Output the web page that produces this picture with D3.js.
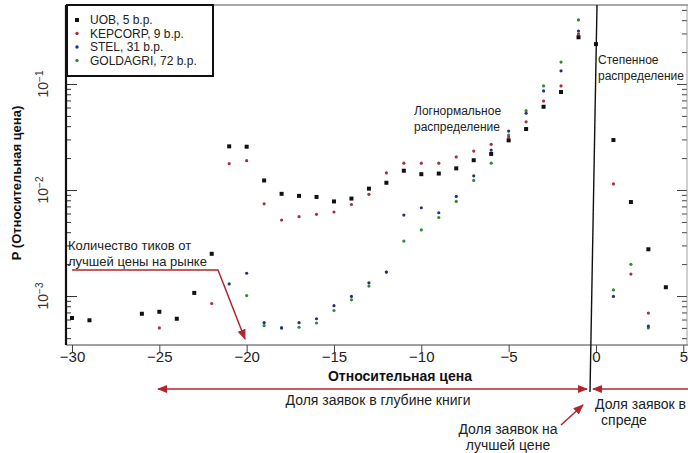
<!DOCTYPE html>
<html lang="ru">
<head>
<meta charset="UTF-8">
<title>P (Относительная цена)</title>
<style>
  body { margin: 0; background: #fff; font-family: "Liberation Sans", Arial, sans-serif; }
  svg { display: block; }
</style>
<script src="https://d3js.org/d3.v7.min.js"></script>
</head>
<body>
<div id="chart"></div>
<script>
// tick labels
const xTicks = [-30, -25, -20, -15, -10, -5, 0, 5];
const yMajor = [1e-3, 1e-2, 1e-1];
const yExp = ["−3", "−2", "−1"];

// series: [relative price, probability]
const seriesNames = ["UOB, 5 b.p.", "KEPCORP, 9 b.p.", "STEL, 31 b.p.", "GOLDAGRI, 72 b.p."];
const seriesColors = ["#111111", "#a8303a", "#27307e", "#2f8a3c"];

const uob = [[-30, 6.2e-4], [-29, 5.9e-4], [-26, 6.8e-4], [-25, 7.1e-4], [-24, 6.1e-4], [-23, 1.07e-3],
  [-22, 2.5e-3], [-21, 2.58e-2], [-20, 2.56e-2], [-19, 1.23e-2], [-18, 9.2e-3], [-17, 8.8e-3],
  [-16, 8.6e-3], [-15, 7.8e-3], [-14, 8.3e-3], [-13, 1.03e-2], [-12, 1.17e-2], [-11, 1.52e-2],
  [-10, 1.41e-2], [-9, 1.43e-2], [-8, 1.6e-2], [-7, 1.91e-2], [-6, 2.19e-2], [-5, 2.94e-2],
  [-4, 3.76e-2], [-3, 6.1e-2], [-2, 8.4e-2], [-1, 0.276], [0, 0.238], [1, 2.96e-2],
  [2, 7.7e-3], [3, 2.76e-3], [4, 1.21e-3]];

const kepcorp = [[-25, 5.0e-4], [-22, 8.5e-4], [-21, 1.77e-2], [-20, 1.89e-2], [-19, 7.4e-3],
  [-18, 5.2e-3], [-17, 5.6e-3], [-16, 5.9e-3], [-15, 6.2e-3], [-14, 7.3e-3], [-13, 9.1e-3],
  [-12, 1.45e-2], [-11, 1.79e-2], [-10, 1.79e-2], [-9, 1.79e-2], [-8, 2.05e-2], [-7, 2.33e-2],
  [-6, 2.7e-2], [-5, 3.16e-2], [-4, 4.4e-2], [-3, 6.9e-2], [-2, 9.6e-2], [-1, 0.296],
  [1, 1.14e-2], [2, 1.61e-3], [3, 6.9e-4]];

const stel = [[-21, 1.3e-3], [-20, 1.64e-3], [-19, 5.6e-4], [-18, 5.0e-4], [-17, 5.6e-4],
  [-16, 6.1e-4], [-15, 8.1e-4], [-14, 9.9e-4], [-13, 1.33e-3], [-12, 1.68e-3], [-11, 5.8e-3],
  [-10, 6.8e-3], [-9, 6.1e-3], [-8, 8.7e-3], [-7, 1.36e-2], [-6, 2.38e-2], [-5, 3.6e-2],
  [-4, 5.3e-2], [-3, 8.6e-2], [-2, 0.133], [-1, 0.316], [1, 9.9e-4], [3, 5.2e-4]];

const goldagri = [[-20, 1.01e-3], [-19, 5.25e-4], [-18, 5.0e-4], [-17, 5.07e-4], [-16, 5.56e-4],
  [-15, 7.3e-4], [-14, 9.2e-4], [-13, 1.24e-3], [-12, 1.68e-3], [-11, 3.3e-3], [-10, 4.2e-3],
  [-9, 5.5e-3], [-8, 7.8e-3], [-7, 1.23e-2], [-6, 1.79e-2], [-5, 3.3e-2], [-4, 5.6e-2],
  [-3, 9.6e-2], [-2, 0.161], [-1, 0.402], [1, 1.14e-3], [2, 1.99e-3], [3, 5.0e-4]];

const series = [uob, kepcorp, stel, goldagri];

const width = 688, height = 453;
const padLeft = 66, padRight = 687, padTop = 5, padBottom = 345;
const red = "#b3262b";

const x = d3.scaleLinear().domain([-30, 5]).range([72, 683.3]);
const y = d3.scaleLog().domain([1e-3, 1e-1]).range([296, 84]);

const svg = d3.select("#chart").append("svg")
    .attr("width", width)
    .attr("height", height)
    .style("font-family", "'Liberation Sans', Arial, sans-serif");

const defs = svg.append("defs");
defs.append("marker")
    .attr("id", "arrow")
    .attr("viewBox", "0 0 10 10")
    .attr("refX", 9).attr("refY", 5)
    .attr("markerWidth", 7).attr("markerHeight", 7)
    .attr("orient", "auto-start-reverse")
  .append("path")
    .attr("d", "M0,1 L10,5 L0,9 z")
    .attr("fill", red);

// log minor ticks inside the frame
const allTicks = [];
for (let d = -4; d <= -1; d++) {
  for (let m = 1; m <= 9; m++) {
    const v = m * Math.pow(10, d);
    if (y(v) > padTop + 2 && y(v) < padBottom - 2) allTicks.push(v);
  }
}
const isMajor = v => yMajor.some(m => Math.abs(v / m - 1) < 1e-6);

// frame
svg.append("line")
    .attr("x1", padLeft).attr("x2", width).attr("y1", padTop).attr("y2", padTop)
    .attr("stroke", "#555").attr("stroke-width", 1.2);
svg.append("line")
    .attr("x1", padLeft).attr("x2", width).attr("y1", padBottom).attr("y2", padBottom)
    .attr("stroke", "#444").attr("stroke-width", 1.2);

// left axis
const yLeft = svg.append("g")
    .attr("transform", `translate(${padLeft},0)`)
    .call(d3.axisRight(y).tickValues(allTicks).tickFormat(""));
yLeft.select(".domain").remove();
yLeft.selectAll(".tick line")
    .attr("x2", d => isMajor(d) ? 11 : 5)
    .attr("stroke", "#333");
svg.append("line")
    .attr("x1", padLeft).attr("x2", padLeft).attr("y1", padTop).attr("y2", padBottom)
    .attr("stroke", "#111").attr("stroke-width", 2.2);

// right axis of the next panel, cut off
const yRight = svg.append("g")
    .attr("transform", `translate(${padRight},0)`)
    .call(d3.axisLeft(y).tickValues(allTicks).tickFormat(""));
yRight.select(".domain").remove();
yRight.selectAll(".tick line")
    .attr("x2", d => isMajor(d) ? -10 : -5)
    .attr("stroke", "#444");
svg.append("line")
    .attr("x1", padRight).attr("x2", padRight).attr("y1", padTop).attr("y2", padBottom)
    .attr("stroke", "#888").attr("stroke-width", 0.8);

// y tick labels (rotated, with exponent)
yMajor.forEach((v, i) => {
  const t = svg.append("text")
      .attr("transform", `translate(48,${y(v)}) rotate(-90)`)
      .attr("text-anchor", "middle")
      .attr("font-size", 14)
      .attr("fill", "#333");
  t.append("tspan").text("10");
  t.append("tspan").attr("dy", "-0.55em").attr("font-size", 10).text(yExp[i]);
});

svg.append("text")
    .attr("transform", `translate(21,183) rotate(-90)`)
    .attr("text-anchor", "middle")
    .attr("font-size", 13)
    .attr("font-weight", "bold")
    .attr("fill", "#111")
    .text("P (Относительная цена)");

// x axis
const xAxis = svg.append("g")
    .attr("transform", `translate(0,${padBottom})`)
    .call(d3.axisBottom(x).tickValues(xTicks).tickSize(7)
      .tickFormat(d => d < 0 ? "−" + Math.abs(d) : d));
xAxis.select(".domain").remove();
xAxis.selectAll(".tick line").attr("stroke", "#444");
xAxis.selectAll(".tick text")
    .attr("font-size", 15)
    .attr("font-family", "'Liberation Sans', Arial, sans-serif")
    .attr("fill", "#222")
    .attr("y", 6);

svg.append("text")
    .attr("x", 400).attr("y", 381)
    .attr("text-anchor", "middle")
    .attr("font-size", 14)
    .attr("font-weight", "bold")
    .attr("fill", "#111")
    .text("Относительная цена");

// points
const pts = svg.append("g");
[3, 2, 1].forEach(i => {
  pts.append("g").selectAll("circle")
    .data(series[i])
    .join("circle")
      .attr("cx", d => x(d[0]))
      .attr("cy", d => y(d[1]))
      .attr("r", 1.6)
      .attr("fill", seriesColors[i]);
});
pts.append("g").selectAll("rect")
  .data(uob)
  .join("rect")
    .attr("x", d => x(d[0]) - 2)
    .attr("y", d => y(d[1]) - 2)
    .attr("width", 4)
    .attr("height", 4)
    .attr("fill", seriesColors[0]);

// best price divider
svg.append("line")
    .attr("x1", 597).attr("y1", padTop).attr("x2", 590).attr("y2", 392)
    .attr("stroke", "#111").attr("stroke-width", 1.4);

// legend
const legend = svg.append("g");
legend.append("rect")
    .attr("x", 67).attr("y", 5).attr("width", 146).attr("height", 71)
    .attr("fill", "#fff").attr("stroke", "#111").attr("stroke-width", 2);
seriesNames.forEach((name, i) => {
  const ly = 20 + i * 13.5;
  if (i === 0) {
    legend.append("rect").attr("x", 75).attr("y", ly - 2).attr("width", 4).attr("height", 4)
        .attr("fill", seriesColors[i]);
  } else {
    legend.append("circle").attr("cx", 77).attr("cy", ly).attr("r", 1.7)
        .attr("fill", seriesColors[i]);
  }
  legend.append("text")
      .attr("x", 90).attr("y", ly + 4)
      .attr("font-size", 12)
      .attr("fill", "#222")
      .text(name);
});

// annotations
const note = (lines, x0, y0, anchor, size) => {
  lines.forEach((s, i) => {
    svg.append("text")
        .attr("x", x0).attr("y", y0 + i * 16)
        .attr("text-anchor", anchor)
        .attr("font-size", size)
        .attr("fill", "#222")
        .text(s);
  });
};
note(["Количество тиков от", "лучшей цены на рынке"], 68, 250, "start", 13);
note(["Логнормальное", "распределение"], 414, 115, "start", 12);
note(["Степенное", "распределение"], 598, 64, "start", 12);
note(["Доля заявок в глубине книги"], 378, 405, "middle", 14);
note(["Доля заявок в"], 595, 409, "start", 14);
note(["спреде"], 624, 425, "middle", 14);
note(["Доля заявок на", "лучшей цене"], 508, 434, "middle", 14);

svg.append("path")
    .attr("d", "M72,270 L218,270 L245,339")
    .attr("fill", "none").attr("stroke", red).attr("stroke-width", 1.5)
    .attr("marker-end", "url(#arrow)");
svg.append("line")
    .attr("x1", 158).attr("y1", 389).attr("x2", 587).attr("y2", 389)
    .attr("stroke", red).attr("stroke-width", 1.5)
    .attr("marker-start", "url(#arrow)").attr("marker-end", "url(#arrow)");
svg.append("line")
    .attr("x1", 593).attr("y1", 389).attr("x2", 700).attr("y2", 389)
    .attr("stroke", red).attr("stroke-width", 1.5)
    .attr("marker-start", "url(#arrow)");
svg.append("line")
    .attr("x1", 561).attr("y1", 425).attr("x2", 583).attr("y2", 405)
    .attr("stroke", red).attr("stroke-width", 1.5)
    .attr("marker-end", "url(#arrow)");
</script>
</body>
</html>
